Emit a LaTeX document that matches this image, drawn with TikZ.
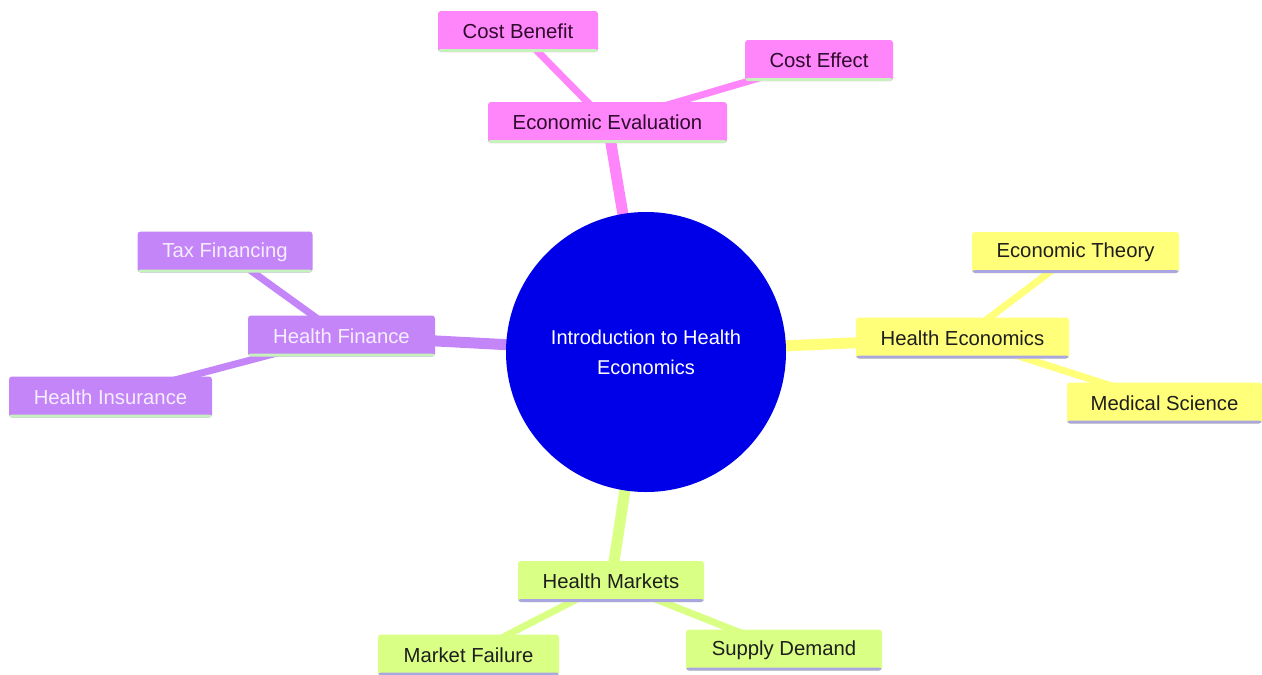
\documentclass[tikz,border=0pt]{standalone}
\usepackage{fontspec}
\setmainfont{Liberation Sans}
\usetikzlibrary{backgrounds}
\definecolor{cpink}{HTML}{FF85FB}
\definecolor{cpurple}{HTML}{C385F8}
\definecolor{cyellow}{HTML}{FFFF7A}
\definecolor{cgreen}{HTML}{D9FF85}
\definecolor{croot}{HTML}{0000E8}
\definecolor{lgreen}{HTML}{C6F2BC}
\definecolor{lav}{HTML}{A9A6E2}
\definecolor{tpink}{HTML}{2E0A2C}
\definecolor{tpurple}{HTML}{F6EEFF}
\definecolor{tdark}{HTML}{1E1E1E}
\begin{document}
\begin{tikzpicture}[x=1pt,y=-1pt,
  box/.style={rounded corners=3pt, inner sep=0pt, minimum height=41pt,
    font=\fontsize{20.3}{24}\selectfont},
  bline/.style={path picture={\fill[#1] ([yshift=3pt]path picture bounding box.south west) rectangle (path picture bounding box.south east);}},
  pinkbox/.style={box, fill=cpink, text=tpink, bline=lgreen},
  purplebox/.style={box, fill=cpurple, text=tpurple, bline=lgreen},
  yellowbox/.style={box, fill=cyellow, text=tdark, bline=lav},
  greenbox/.style={box, fill=cgreen, text=tdark, bline=lav},
  rootedge/.style={line width=11pt},
  childedge/.style={line width=7pt}]
\useasboundingbox (0,0) rectangle (1262,675);
\node[circle, fill=croot, minimum size=280pt, inner sep=0pt, text=white, align=center,
  font=\fontsize{20}{30}\selectfont] (root) at (646,352) {Introduction to Health\\Economics};
% pink
\node[pinkbox, minimum width=239pt] (ee) at (607.5,122.5) {Economic Evaluation};
\node[pinkbox, minimum width=160pt] (cb) at (518,31.5) {Cost Benefit};
\node[pinkbox, minimum width=148pt] (ce) at (819,60.5) {Cost Effect};
% purple
\node[purplebox, minimum width=187pt] (hf) at (341.5,336) {Health Finance};
\node[purplebox, minimum width=175pt] (tf) at (225,252) {Tax Financing};
\node[purplebox, minimum width=203pt] (hi) at (110.5,397) {Health Insurance};
% yellow
\node[yellowbox, minimum width=213pt] (he) at (962.5,338) {Health Economics};
\node[yellowbox, minimum width=207pt] (et) at (1075.5,252.5) {Economic Theory};
\node[yellowbox, minimum width=195pt] (ms) at (1164.5,403) {Medical Science};
% green
\node[greenbox, minimum width=186pt] (hm) at (611,581.5) {Health Markets};
\node[greenbox, minimum width=181pt] (mf) at (468.5,655) {Market Failure};
\node[greenbox, minimum width=196pt] (sd) at (784,650) {Supply Demand};
\begin{scope}[on background layer]
  \draw[rootedge, cpink] (root.center) -- (ee.center);
  \draw[childedge, cpink] (ee.center) -- (cb.center);
  \draw[childedge, cpink] (ee.center) -- (ce.center);
  \draw[rootedge, cpurple] (root.center) -- (hf.center);
  \draw[childedge, cpurple] (hf.center) -- (tf.center);
  \draw[childedge, cpurple] (hf.center) -- (hi.center);
  \draw[rootedge, cyellow] (root.center) -- (he.center);
  \draw[childedge, cyellow] (he.center) -- (et.center);
  \draw[childedge, cyellow] (he.center) -- (ms.center);
  \draw[rootedge, cgreen] (root.center) -- (hm.center);
  \draw[childedge, cgreen] (hm.center) -- (mf.center);
  \draw[childedge, cgreen] (hm.center) -- (sd.center);
\end{scope}
\end{tikzpicture}
\end{document}
